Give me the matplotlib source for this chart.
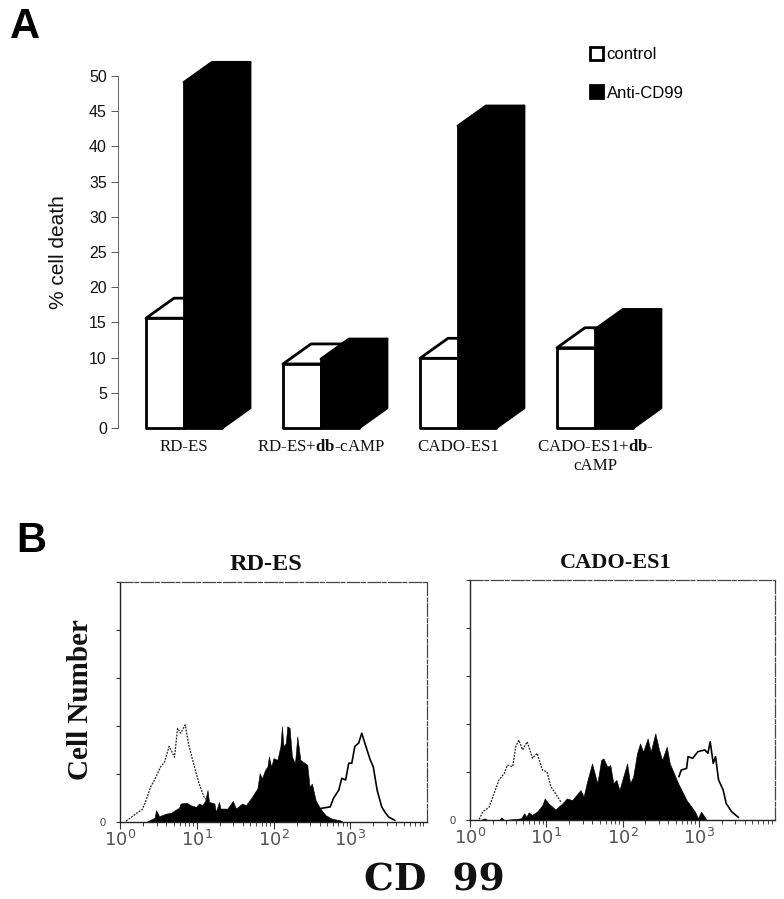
import numpy as np
import matplotlib
matplotlib.use("Agg")
import matplotlib.pyplot as plt
from matplotlib.patches import Patch, Polygon
from matplotlib.ticker import FixedLocator, LogLocator, NullFormatter

plt.rcParams['mathtext.fontset'] = 'custom'
plt.rcParams['mathtext.rm'] = 'DejaVu Sans'
plt.rcParams['mathtext.it'] = 'DejaVu Sans'
plt.rcParams['mathtext.bf'] = 'Liberation Serif:bold'

# ---- Panel A data ----
groups = ["RD-ES", r"RD-ES+$\mathbf{db}$-cAMP", "CADO-ES1", "CADO-ES1+$\\mathbf{db}$-\ncAMP"]
control = [15.6, 9.1, 9.9, 11.4]
anti_cd99 = [49.1, 9.8, 42.9, 14.0]

# ---- Panel B data: log10(fluorescence), cell count ----
rd_ctrl_log = [.08, .21, .29, .34, .40, .45, .53, .58, .64, .71, .75, .79, .85, .90, .97, 1.03, 1.10, 1.14]
rd_ctrl_n = [.4, 3.5, 5.2, 9.1, 14.7, 17.5, 23, 25, 31.5, 27, 39, 37, 40.5, 31.5, 23, 16, 10, 9]
rd_dbc_log = [.34, .45, .47, .51, .60, .66, .77, .79, .87, .92, .99, 1.03, 1.07, 1.11, 1.14, 1.16, 1.23, 1.25,
              1.29, 1.31, 1.40, 1.47, 1.51, 1.59, 1.64, 1.72, 1.79, 1.82, 1.85, 1.89, 1.92, 1.94, 1.97, 2.00,
              2.05, 2.09, 2.11, 2.13, 2.16, 2.18, 2.21, 2.24, 2.28, 2.31, 2.35, 2.44, 2.47, 2.50, 2.55, 2.61,
              2.68, 2.76, 2.87, 2.91]
rd_dbc_n = [0, 1.8, 4.9, 2.4, 3.5, 3.8, 6, 7.7, 8, 7, 6.3, 7.7, 7, 8.8, 13.3, 8.4, 7.7, 4.2,
            8.4, 5.6, 5.6, 8.8, 5.6, 7.7, 7, 10.5, 14, 20.3, 18.2, 21.7, 23, 27.3, 23, 26.6,
            25.9, 31.5, 39.9, 31.5, 32.9, 39.9, 39.2, 27.3, 24.5, 35.7, 25.9, 23.8, 14.7, 16, 9, 5.6,
            2.8, 1.4, .7, 0]
rd_anti_log = [2.61, 2.68, 2.74, 2.78, 2.85, 2.89, 2.94, 2.98, 3.02, 3.06, 3.11, 3.15, 3.19, 3.26, 3.30, 3.35, 3.41, 3.45, 3.50, 3.58]
rd_anti_n = [5.6, 6, 6.3, 9.8, 13.3, 18.2, 17.5, 24.5, 24.5, 31.5, 32.9, 37, 32.9, 25.9, 23, 13.3, 6.3, 4.2, 2.1, .7]

ca_ctrl_log = [.12, .17, .25, .30, .38, .45, .49, .56, .60, .64, .69, .75, .82, .88, .95, 1.01, 1.06, 1.12, 1.19]
ca_ctrl_n = [.3, 3.5, 5.3, 9.7, 16.7, 19.4, 22.9, 22.2, 30.6, 33.3, 29.2, 32.6, 25.7, 27.8, 20.8, 20.1, 13.9, 11.1, 7.6]
ca_dbc_log = [.14, .19, .23, .38, .41, .45, .67, .71, .74, .77, .81, .88, .95, .98, 1.03, 1.12, 1.21, 1.27, 1.34,
              1.45, 1.49, 1.53, 1.60, 1.67, 1.72, 1.75, 1.80, 1.84, 1.88, 1.92, 1.96, 2.01, 2.06, 2.10, 2.14,
              2.19, 2.23, 2.27, 2.33, 2.37, 2.43, 2.48, 2.52, 2.58, 2.62, 2.73, 2.84, 2.95, 2.99, 3.03, 3.09, 3.10]
ca_dbc_n = [0, .7, 0, 0, 1.1, 0, .7, 2.8, 1.4, 3.2, 2.1, 3.5, 6.3, 9, 6.9, 4.4, 6.9, 9, 8.3,
            12.5, 9.7, 15.3, 23.6, 15.3, 25, 25.7, 22.2, 22.9, 15.3, 16.7, 12.5, 18.1, 23.6, 15.3, 18.1,
            27.8, 31.9, 28.5, 34, 28.5, 36.1, 29.2, 25, 30.6, 23.6, 15.3, 8.3, 3.5, .7, 3.5, .7, 0]
ca_anti_log = [2.74, 2.77, 2.84, 2.86, 2.92, 2.99, 3.08, 3.12, 3.15, 3.19, 3.22, 3.26, 3.32, 3.36, 3.43, 3.52]
ca_anti_n = [18.1, 20.8, 21.5, 26.4, 25.7, 28.5, 29.2, 27.8, 32.6, 23.6, 26.4, 16.7, 12.5, 6.9, 3.5, 1.1]

W, H = 784, 899
fig = plt.figure(figsize=(W / 100, H / 100), dpi=100, facecolor='white')


def px_axes(x0, y0, x1, y1):
    return fig.add_axes([x0 / W, 1 - y1 / H, (x1 - x0) / W, (y1 - y0) / H])


def px_text(x, y, s, **kw):
    kw.setdefault('ha', 'center')
    kw.setdefault('va', 'center')
    return fig.text(x / W, 1 - y / H, s, **kw)


SANS = 'Liberation Sans'
SERIF = 'Liberation Serif'

# ---- Panel A ----
ax = px_axes(118, 76, 664, 428)
ax.set_xlim(-0.482, 3.504)
ax.set_ylim(0, 50)
for s in ('top', 'right', 'bottom'):
    ax.spines[s].set_visible(False)
ax.spines['left'].set_color('#666666')
ax.spines['left'].set_linewidth(0.7)
ax.patch.set_alpha(0)

bw = 38 / 137      # bar width in group units
dx = 28 / 137      # 3-D depth, x
dy = 20 * 50 / 352 # 3-D depth, y


def bar3d(x, v, front, edge):
    ax.add_patch(Polygon([(x, v), (x + dx, v + dy), (x + bw + dx, v + dy), (x + bw, v)],
                         closed=True, fc=front, ec=edge, lw=2, clip_on=False, joinstyle='round'))
    ax.add_patch(Polygon([(x + bw, 0), (x + bw + dx, dy), (x + bw + dx, v + dy), (x + bw, v)],
                         closed=True, fc=edge, ec=edge, lw=2, clip_on=False, joinstyle='round'))
    ax.add_patch(Polygon([(x, 0), (x + bw, 0), (x + bw, v), (x, v)],
                         closed=True, fc=front, ec=edge, lw=2, clip_on=False, joinstyle='round'))


for i, (c, a) in enumerate(zip(control, anti_cd99)):
    bar3d(i - bw, c, 'white', 'black')
    bar3d(i, a, 'black', 'black')

ax.set_yticks(range(0, 51, 5))
ax.tick_params(axis='y', length=5, width=0.7, color='#555555', pad=3)
for t in ax.get_yticklabels():
    t.set_fontfamily(SANS)
    t.set_fontsize(11.5)
    t.set_color('#111111')
ax.set_xticks(range(4))
ax.set_xticklabels(groups, fontfamily=SERIF, fontsize=12.2, linespacing=1.25, color='#111111')
ax.tick_params(axis='x', length=0, pad=8)

px_text(58, 252, "% cell death", rotation=90, fontfamily=SANS, fontsize=15, color='#111111')

leg = ax.legend(handles=[Patch(fc='white', ec='black', lw=2, label='control'),
                         Patch(fc='black', ec='black', lw=2, label='Anti-CD99')],
                loc='upper left', bbox_to_anchor=(590 / W, 1 - 47 / H),
                bbox_transform=fig.transFigure, frameon=False, borderpad=0, borderaxespad=0,
                handlelength=0.8, handleheight=0.8, handletextpad=0.2, labelspacing=1.39,
                prop={'family': SANS, 'size': 12})

px_text(25, 27, "A", fontfamily=SANS, fontweight='bold', fontsize=30)
px_text(31, 541, "B", fontfamily=SANS, fontweight='bold', fontsize=30)


# ---- Panel B ----
def histogram(box, title, title_xy, tsize, ctrl, dbc, anti):
    h = px_axes(*box)
    h.set_xscale('log')
    h.set_xlim(1, 1e4)
    h.set_ylim(0, 100)
    h.patch.set_alpha(0)
    h.plot(10 ** np.array(ctrl[0]), ctrl[1], color='#222222', lw=0.9, ls=(0, (1.5, 1)))
    h.plot(10 ** np.array(anti[0]), anti[1], color='black', lw=1.2)
    h.fill_between(10 ** np.array(dbc[0]), 0, dbc[1], color='black', lw=0.4)
    for s in ('left', 'bottom'):
        h.spines[s].set_linewidth(1.0)
        h.spines[s].set_color('#222222')
    for s in ('top', 'right'):
        h.spines[s].set_linewidth(0.9)
        h.spines[s].set_color('#444444')
        h.spines[s].set_linestyle((0, (10, 1.5, 3, 2)))
    h.yaxis.set_major_locator(FixedLocator([0, 20, 40, 60, 80, 100]))
    h.set_yticklabels(['0', '', '', '', '', ''], fontfamily=SANS, fontsize=8, color='#444444')
    h.tick_params(axis='y', length=3, width=0.8, color='#333333', pad=7)
    h.xaxis.set_major_locator(FixedLocator([1, 10, 100, 1000]))
    h.set_xticklabels(['$10^{0}$', '$10^{1}$', '$10^{2}$', '$10^{3}$'], fontsize=13, color='#555555')
    h.xaxis.set_minor_locator(LogLocator(base=10, subs=np.arange(2, 10), numticks=10))
    h.xaxis.set_minor_formatter(NullFormatter())
    h.tick_params(axis='x', which='major', length=5, width=0.8, color='#333333', pad=1)
    h.tick_params(axis='x', which='minor', length=3, width=0.7, color='#444444')
    px_text(title_xy[0], title_xy[1], title, fontfamily=SERIF, fontweight='bold', fontsize=tsize, color='#111111')


histogram((120, 582, 427, 822), "RD-ES", (266, 565), 17.5,
          (rd_ctrl_log, rd_ctrl_n), (rd_dbc_log, rd_dbc_n), (rd_anti_log, rd_anti_n))
histogram((470, 580, 775, 820), "CADO-ES1", (616, 563), 16,
          (ca_ctrl_log, ca_ctrl_n), (ca_dbc_log, ca_dbc_n), (ca_anti_log, ca_anti_n))

px_text(80, 700, "Cell Number", rotation=90, fontfamily=SERIF, fontweight='bold', fontsize=21, color='#111111')
px_text(434, 880, "CD  99", fontfamily='DejaVu Serif', fontweight='bold', fontsize=27, color='#111111')

fig.savefig("out.png", dpi=100, facecolor='white')
